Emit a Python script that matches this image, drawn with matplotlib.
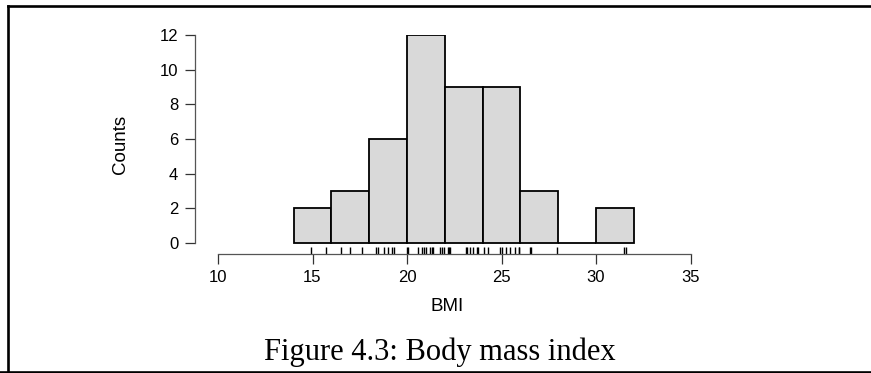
import matplotlib.pyplot as plt
from matplotlib.lines import Line2D

bmi = [14.9, 15.7,
       16.5, 17.0, 17.6,
       18.35, 18.45, 18.8, 19.0, 19.2, 19.3,
       20.0, 20.05, 20.6, 20.8, 20.9, 21.0, 21.2, 21.3, 21.4, 21.75, 21.85, 21.95,
       22.15, 22.2, 22.3, 23.1, 23.2, 23.35, 23.5, 23.7, 23.75,
       24.1, 24.3, 24.9, 25.0, 25.25, 25.45, 25.7, 25.9, 25.95,
       26.5, 26.55, 27.95,
       31.5, 31.6]
bins = [14, 16, 18, 20, 22, 24, 26, 28, 30, 32]
xticks = [10, 15, 20, 25, 30, 35]
yticks = [0, 2, 4, 6, 8, 10, 12]

W, H = 871, 373
fig = plt.figure(figsize=(W / 100, H / 100), dpi=100)

# axes box in pixels: left spine at x=195, bottom spine at y=253.5, y=12 at y=35
left, right, top, bottom = 195, 700, 35, 253.5
ax = fig.add_axes([left / W, 1 - bottom / H, (right - left) / W, (bottom - top) / H])

px_x = 18.9          # pixels per BMI unit
px_y = (243 - 35) / 12
ax.set_xlim(10 - (218 - left) / px_x, 10 + (right - 218) / px_x)
ax.set_ylim(-(bottom - 243) / px_y, 12)

ax.hist(bmi, bins=bins, color='#d9d9d9', edgecolor='black', linewidth=1.3)

# rug
ax.vlines(bmi, 0, 0.028, transform=ax.get_xaxis_transform(), color='black', linewidth=1.0)

for s in ['top', 'right']:
    ax.spines[s].set_visible(False)
ax.spines['left'].set_bounds(0, 12)
ax.spines['bottom'].set_bounds(10, 35)
for s in ['left', 'bottom']:
    ax.spines[s].set_color('#555555')
    ax.spines[s].set_linewidth(0.9)

ax.set_xticks(xticks)
ax.set_yticks(yticks)
ax.tick_params(axis='both', length=7, width=0.9, color='#333333',
               labelsize=12, pad=5)
for lab in ax.get_xticklabels() + ax.get_yticklabels():
    lab.set_family('Liberation Sans')

ax.set_xlabel('BMI', fontsize=13.5, family='Liberation Sans', labelpad=9)
ax.set_ylabel('Counts', fontsize=13.5, family='Liberation Sans', labelpad=22)

fig.text(440 / W, 1 - 352 / H, 'Figure 4.3: Body mass index', ha='center', va='center',
         fontsize=22, family='Liberation Serif')

# page frame
lw = 1.9
fig.add_artist(Line2D([8 / W, 8 / W], [0, 1 - 6 / H], transform=fig.transFigure,
                      color='black', linewidth=lw))
fig.add_artist(Line2D([8 / W, 1], [1 - 6 / H, 1 - 6 / H], transform=fig.transFigure,
                      color='black', linewidth=lw))
fig.add_artist(Line2D([0, 1], [1.2 / H, 1.2 / H], transform=fig.transFigure,
                      color='black', linewidth=lw))

fig.savefig('out.png', dpi=100)
